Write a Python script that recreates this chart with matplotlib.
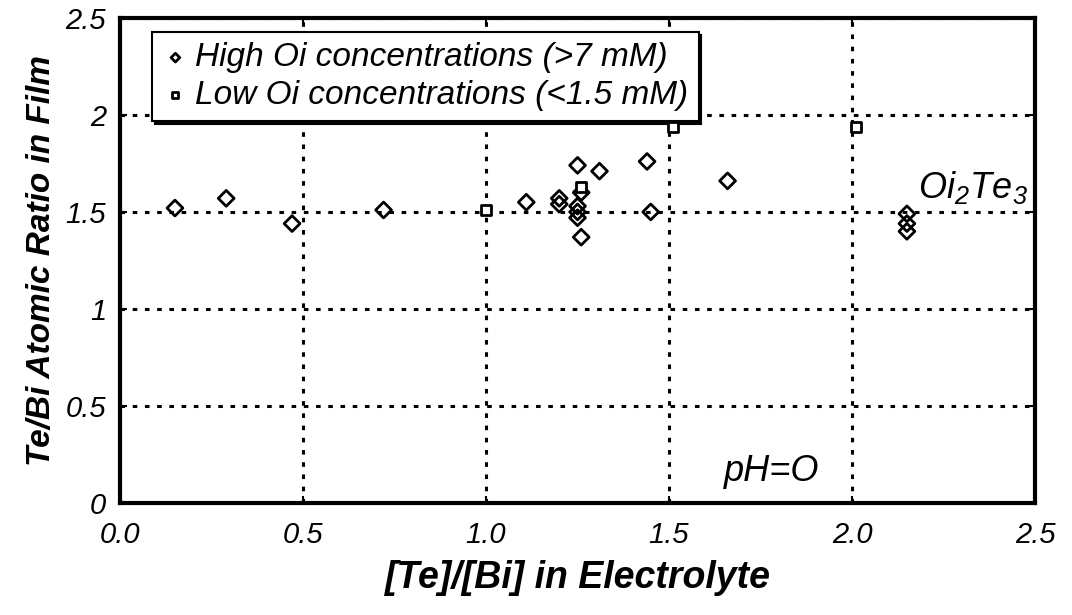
import matplotlib
matplotlib.use("Agg")
from matplotlib import pyplot as plt

# high Bi concentration films
high_x = [0.15, 0.29, 0.47, 0.72, 1.11, 1.20, 1.20, 1.25, 1.26, 1.25, 1.25, 1.25, 1.26,
          1.31, 1.44, 1.45, 1.66, 2.15, 2.15, 2.15]
high_y = [1.52, 1.57, 1.44, 1.51, 1.55, 1.57, 1.54, 1.74, 1.60, 1.53, 1.50, 1.47, 1.37,
          1.71, 1.76, 1.50, 1.66, 1.49, 1.44, 1.40]
# low Bi concentration films
low_x = [1.00, 1.26, 1.51, 2.01]
low_y = [1.51, 1.63, 1.94, 1.94]

xticks = [0.0, 0.5, 1.0, 1.5, 2.0, 2.5]
xlabels = ["0.0", "0.5", "1.0", "1.5", "2.0", "2.5"]
yticks = [0, 0.5, 1, 1.5, 2, 2.5]
ylabels = ["0", "0.5", "1", "1.5", "2", "2.5"]

fam = "Liberation Sans"
plt.rcParams['font.family'] = [fam, 'DejaVu Sans']
plt.rcParams['mathtext.fontset'] = 'custom'
plt.rcParams['mathtext.rm'] = fam + ':italic'
plt.rcParams['mathtext.it'] = fam + ':italic'

fig = plt.figure(figsize=(10.72, 6.15), dpi=100)
ax = fig.add_axes([0.112, 0.182, 0.8535, 0.789])

ax.scatter(high_x, high_y, marker='D', s=65, facecolors='none', edgecolors='black',
           linewidths=2, label='High Oi concentrations (>7 mM)', zorder=4)
ax.scatter(low_x, low_y, marker='s', s=60, facecolors='white', edgecolors='black',
           linewidths=2, label='Low Oi concentrations (<1.5 mM)', zorder=4)

ax.set_xlim(0, 2.5)
ax.set_ylim(0, 2.5)
ax.set_xticks(xticks)
ax.set_xticklabels(xlabels, style='italic', size=21)
ax.set_yticks(yticks)
ax.set_yticklabels(ylabels, style='italic', size=21)
ax.tick_params(direction='in', length=5, width=1.5, top=True, right=True)
ax.tick_params(axis='x', pad=13)
ax.tick_params(axis='y', pad=10)
ax.grid(True, color='black', linestyle=(0, (1.5, 2.5)), linewidth=2.2)
for s in ax.spines.values():
    s.set_linewidth(3)

ax.set_xlabel("[Te]/[Bi] in Electrolyte", size=27, style='italic', weight='bold', labelpad=8)
ax.set_ylabel("Te/Bi Atomic Ratio in Film", size=24, style='italic', weight='bold', labelpad=6)

ax.text(2.48, 1.53, r"$\mathrm{Oi_2Te_3}$", ha='right', va='bottom', size=26)
ax.text(1.78, 0.07, "pH=O", ha='center', va='bottom', size=26, style='italic')

leg = ax.legend(loc='upper left', bbox_to_anchor=(0.035, 0.97), frameon=True,
                fancybox=False, shadow={'color': 'black', 'alpha': 1}, handletextpad=0.2,
                handlelength=0.8, borderpad=0.3, labelspacing=0.2, markerscale=0.55,
                prop={'size': 24, 'style': 'italic'}, borderaxespad=0)
leg.get_frame().set_edgecolor('black')
leg.get_frame().set_linewidth(1.5)
leg.get_frame().set_alpha(1)
leg.set_zorder(3)

fig.savefig("out.png", dpi=100)
